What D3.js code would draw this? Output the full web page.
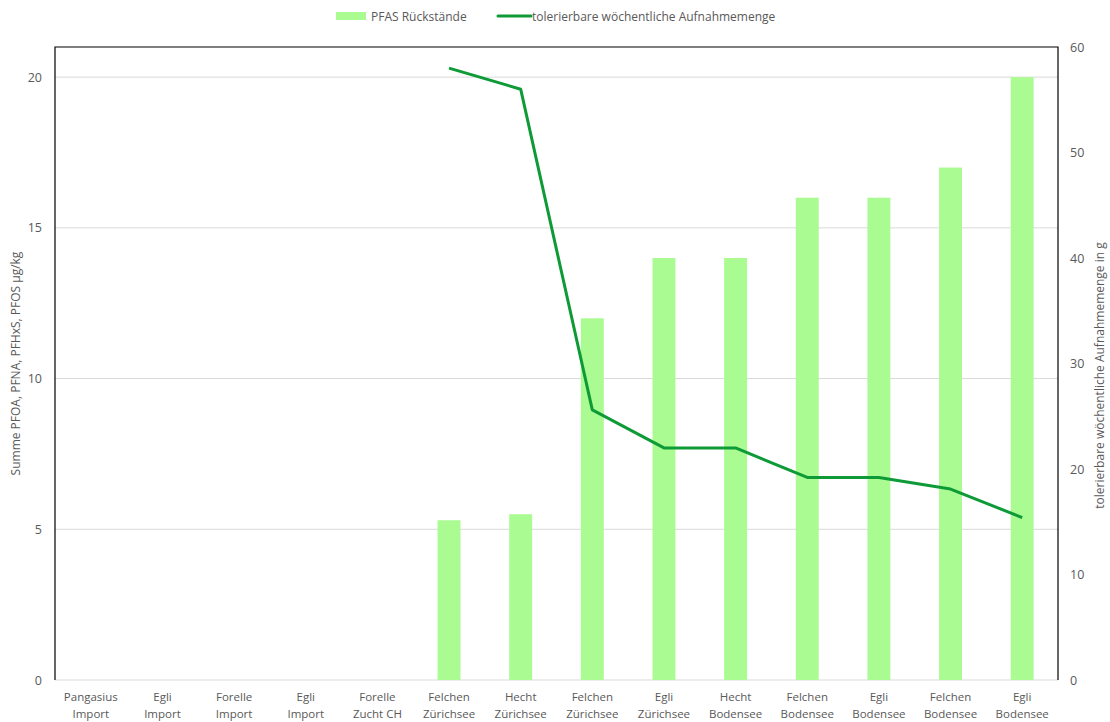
<!DOCTYPE html>
<html>
<head>
<meta charset="utf-8">
<script src="https://cdn.jsdelivr.net/npm/d3@7"></script>
<style>
body { margin: 0; background: #fff; }
text { font-family: "Open Sans", "Liberation Sans", sans-serif; fill: #595959; }
</style>
</head>
<body>
<div id="chart"></div>
<script>
// categories, two label lines each
var categories = [
  ["Pangasius", "Import"], ["Egli", "Import"], ["Forelle", "Import"], ["Egli", "Import"],
  ["Forelle", "Zucht CH"], ["Felchen", "Zürichsee"], ["Hecht", "Zürichsee"], ["Felchen", "Zürichsee"],
  ["Egli", "Zürichsee"], ["Hecht", "Bodensee"], ["Felchen", "Bodensee"], ["Egli", "Bodensee"],
  ["Felchen", "Bodensee"], ["Egli", "Bodensee"]
];
// PFAS residues, µg/kg (null = no bar)
var residues = [null, null, null, null, null, 5.3, 5.5, 12, 14, 14, 16, 16, 17, 20];
// tolerable weekly intake, g
var intake = [null, null, null, null, null, 58, 56, 25.6, 22, 22, 19.2, 19.2, 18.1, 15.4];
var leftTicks = [0, 5, 10, 15, 20];
var rightTicks = [0, 10, 20, 30, 40, 50, 60];

var width = 1110, height = 722;
var margin = {top: 47, right: 52, bottom: 42, left: 55};
var chartWidth = width - margin.left - margin.right;
var chartHeight = height - margin.top - margin.bottom;

var svg = d3.select("#chart").append("svg")
  .attr("width", width)
  .attr("height", height);
var g = svg.append("g")
  .attr("transform", `translate(${margin.left},${margin.top})`);

var idx = categories.map((d, i) => i);
var xScale = d3.scaleBand().domain(idx).range([0, chartWidth]).paddingInner(0.68).paddingOuter(0.34);
var xCenter = d3.scaleBand().domain(idx).range([0, chartWidth]);
var yLeft = d3.scaleLinear().domain([0, 21]).range([chartHeight, 0]);
var yRight = d3.scaleLinear().domain([0, 60]).range([chartHeight, 0]);

// gridlines
g.append("g").selectAll("line")
  .data(leftTicks)
  .enter().append("line")
  .attr("x1", 0).attr("x2", chartWidth)
  .attr("y1", d => yLeft(d)).attr("y2", d => yLeft(d))
  .attr("stroke", "#d9d9d9").attr("stroke-width", 1);

// bars
g.append("g").selectAll("rect")
  .data(residues.map((v, i) => ({i: i, v: v})).filter(d => d.v != null))
  .enter().append("rect")
  .attr("x", d => xScale(d.i))
  .attr("y", d => yLeft(d.v))
  .attr("width", xScale.bandwidth())
  .attr("height", d => chartHeight - yLeft(d.v))
  .attr("fill", "#aafb91");

// line
var line = d3.line()
  .defined(d => d.v != null)
  .x(d => xCenter(d.i) + xCenter.bandwidth() / 2)
  .y(d => yRight(d.v));
g.append("path")
  .datum(intake.map((v, i) => ({i: i, v: v})))
  .attr("d", line)
  .attr("fill", "none")
  .attr("stroke", "#0e9b37")
  .attr("stroke-width", 3)
  .attr("stroke-linejoin", "round");

// frame
g.append("path")
  .attr("d", `M0,${chartHeight}V0H${chartWidth}V${chartHeight}`)
  .attr("fill", "none").attr("stroke", "#000").attr("stroke-width", 1.2);

// left axis
var yAxisL = d3.axisLeft(yLeft).tickValues(leftTicks).tickSize(0).tickPadding(13);
var gl = g.append("g").call(yAxisL);
gl.select(".domain").remove();
gl.selectAll("text").attr("font-size", 12.5).style("font-family", "'Open Sans', sans-serif").attr("fill", "#595959");

// right axis
var yAxisR = d3.axisRight(yRight).tickValues(rightTicks).tickSize(0).tickPadding(12);
var gr = g.append("g").attr("transform", `translate(${chartWidth},0)`).call(yAxisR);
gr.select(".domain").remove();
gr.selectAll("text").attr("font-size", 12.5).style("font-family", "'Open Sans', sans-serif").attr("fill", "#595959");

// x labels
var xl = g.append("g").selectAll("text")
  .data(categories.map((c, i) => ({c: c, i: i})))
  .enter().append("text")
  .attr("text-anchor", "middle")
  .attr("font-size", 11.5)
  .attr("transform", d => `translate(${xCenter(d.i) + xCenter.bandwidth() / 2},${chartHeight + 21})`);
xl.append("tspan").attr("x", 0).attr("y", 0).text(d => d.c[0]);
xl.append("tspan").attr("x", 0).attr("y", 17).text(d => d.c[1]);

// axis titles
svg.append("text")
  .attr("transform", `translate(20,${margin.top + chartHeight / 2}) rotate(-90)`)
  .attr("text-anchor", "middle").attr("font-size", 12)
  .text("Summe PFOA, PFNA, PFHxS, PFOS µg/kg");
svg.append("text")
  .attr("transform", `translate(1104,${margin.top + chartHeight / 2 + 12}) rotate(-90)`)
  .attr("text-anchor", "middle").attr("font-size", 12)
  .text("tolerierbare wöchentliche Aufnahmemenge in g");

// legend
var lg = svg.append("g").attr("transform", "translate(336,16)");
lg.append("rect").attr("x", 0).attr("y", -4).attr("width", 30).attr("height", 8).attr("fill", "#aafb91");
lg.append("text").attr("x", 35).attr("y", 4.5).attr("font-size", 12).text("PFAS Rückstände");
lg.append("line").attr("x1", 162).attr("x2", 195).attr("y1", 0).attr("y2", 0)
  .attr("stroke", "#0e9b37").attr("stroke-width", 3).attr("stroke-linecap", "round");
lg.append("text").attr("x", 196).attr("y", 4.5).attr("font-size", 12).text("tolerierbare wöchentliche Aufnahmemenge");
</script>
</body>
</html>
